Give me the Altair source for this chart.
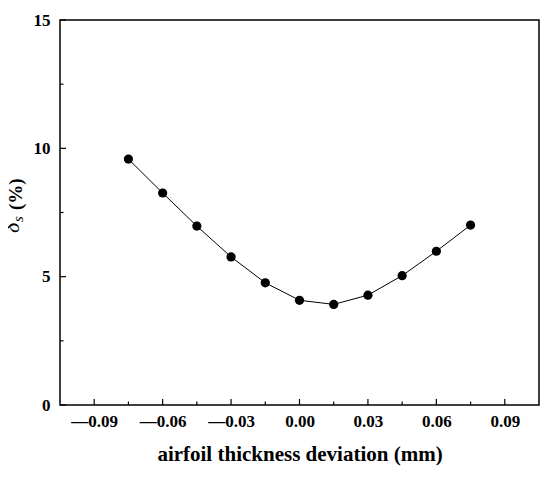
import altair as alt
import pandas as pd

x_vals = [-0.075, -0.06, -0.045, -0.03, -0.015, 0.0, 0.015, 0.03, 0.045, 0.06, 0.075]
y_vals = [9.58, 8.26, 6.97, 5.77, 4.76, 4.08, 3.92, 4.28, 5.04, 5.99, 7.01]
x_major = [-0.09, -0.06, -0.03, 0.0, 0.03, 0.06, 0.09]
x_minor = [-0.075, -0.045, -0.015, 0.015, 0.045, 0.075]
y_major = [0, 5, 10, 15]
y_minor = [2.5, 7.5, 12.5]

W, H = 479, 385
FONT = "Liberation Serif"

df = pd.DataFrame({"x": x_vals, "y": y_vals})
xs = alt.Scale(domain=[-0.105, 0.105], nice=False, zero=False)
ys = alt.Scale(domain=[0, 15], nice=False, zero=False)

xaxis = alt.Axis(values=x_major, ticks=False, domain=False, grid=False,
                 labelExpr="datum.value < -0.0001 ? '\u2014' + format(-datum.value, '.2f') : format(abs(datum.value), '.2f')",
                 labelFont=FONT, labelFontWeight="bold", labelFontSize=17, labelColor="black",
                 labelPadding=8, title="airfoil thickness deviation (mm)", titleFont=FONT,
                 titleFontSize=21, titleFontWeight="bold", titleColor="black", titlePadding=14)
yaxis = alt.Axis(values=y_major, format="d", ticks=False, domain=False, grid=False,
                 labelFont=FONT, labelFontWeight="bold", labelFontSize=17, labelColor="black",
                 labelPadding=10, title=None)

X = lambda f: alt.X(f, scale=xs, axis=xaxis)
Y = lambda f: alt.Y(f, scale=ys, axis=yaxis)

base = alt.Chart(df)
line = base.mark_line(color="black", strokeWidth=1).encode(x=X("x:Q"), y=Y("y:Q"))
pts = base.mark_circle(color="black", opacity=1, size=85).encode(x=X("x:Q"), y=Y("y:Q"))

def xticks(vals, length):
    return alt.Chart(pd.DataFrame({"v": vals})).mark_rule(color="black", strokeWidth=1.2).encode(
        x=X("v:Q"), y=alt.value(H), y2=alt.value(H - length))

def yticks(vals, length):
    return alt.Chart(pd.DataFrame({"v": vals})).mark_rule(color="black", strokeWidth=1.2).encode(
        y=Y("v:Q"), x=alt.value(0), x2=alt.value(length))

one = pd.DataFrame({"k": [0]})
t_delta = alt.Chart(one).mark_text(text="δ", font=FONT, fontSize=22, fontStyle="italic",
                                   angle=270, align="left", baseline="alphabetic", color="black").encode(
    x=alt.value(-41), y=alt.value(213))
t_s = alt.Chart(one).mark_text(text="s", font=FONT, fontSize=15, fontStyle="italic",
                               angle=270, align="left", baseline="alphabetic", color="black").encode(
    x=alt.value(-37), y=alt.value(202))
t_pct = alt.Chart(one).mark_text(text="(%)", font=FONT, fontSize=19, fontWeight="bold",
                                 angle=270, align="left", baseline="alphabetic", color="black").encode(
    x=alt.value(-38), y=alt.value(190))

chart = alt.layer(
    line, pts,
    xticks(x_major, 6), xticks(x_minor, 3.5),
    yticks(y_major, 6), yticks(y_minor, 3.5),
    t_delta, t_s, t_pct,
).properties(
    width=W, height=H,
    autosize=alt.AutoSizeParams(type="none"),
    padding={"left": 52, "top": 12, "right": 3, "bottom": 68},
    background="white",
).configure_view(stroke="black", strokeWidth=1.5)

chart.save("out.html", embed_options={"renderer": "svg", "actions": False})
